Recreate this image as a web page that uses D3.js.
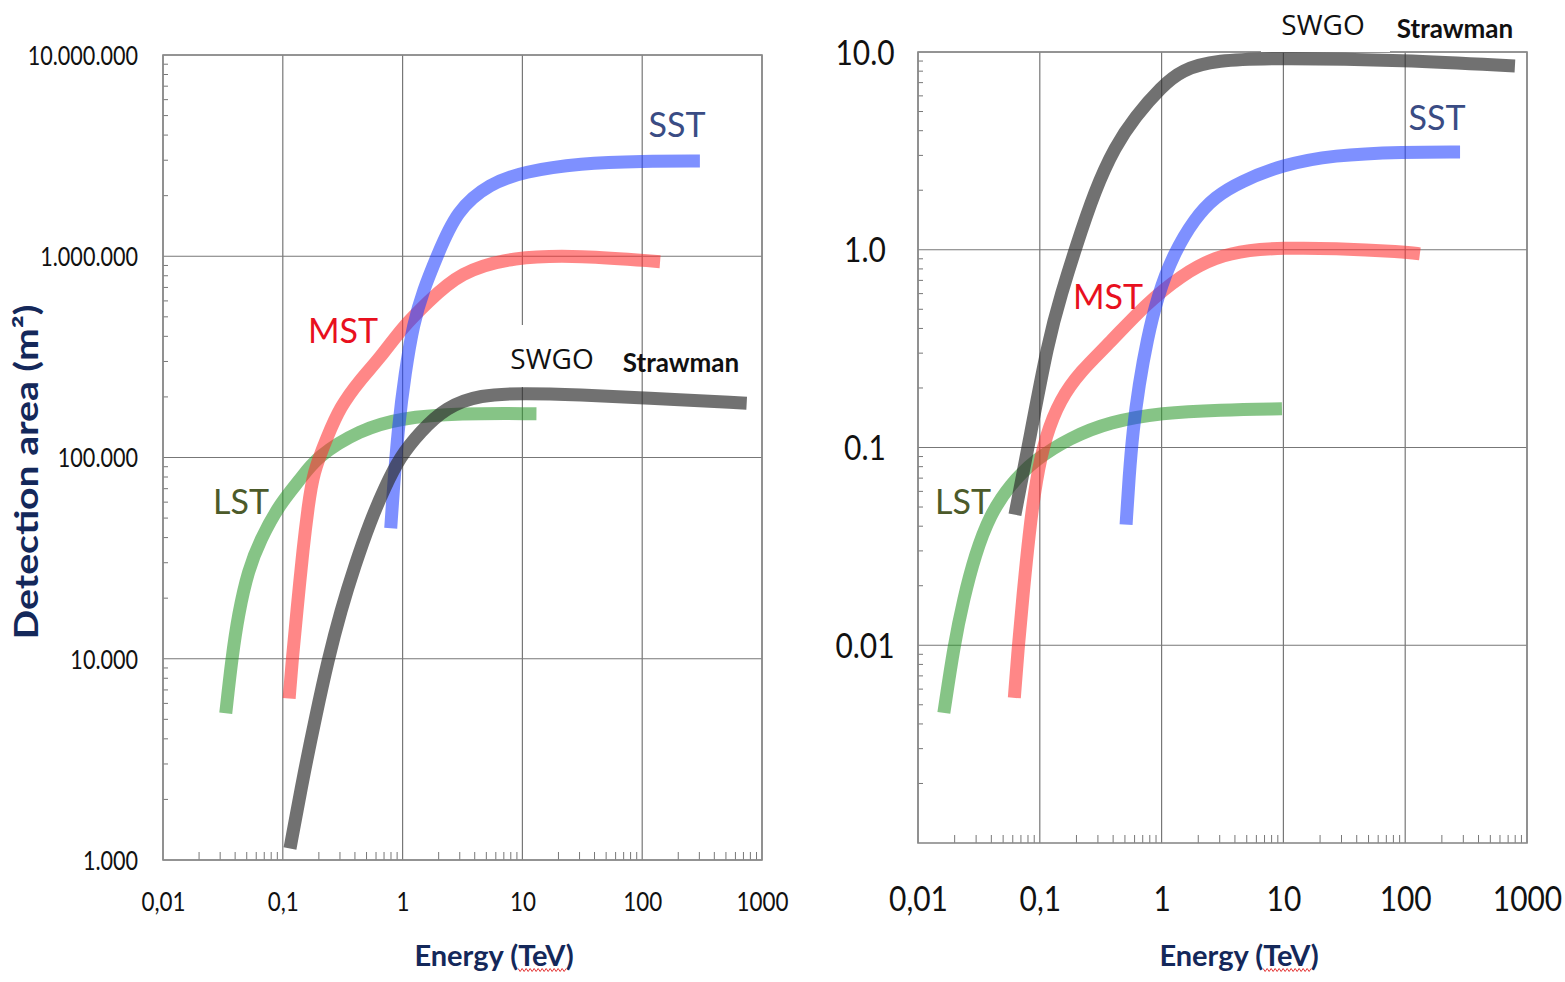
<!DOCTYPE html>
<html>
<head>
<meta charset="utf-8">
<script src="https://cdn.jsdelivr.net/npm/d3@7"></script>
<style>
  body { margin: 0; background: #fff; }
  svg { display: block; }
</style>
</head>
<body>
<svg id="chart" width="1565" height="982"></svg>
<script>
// ---- tick values / labels ----
var energyTicks = [0.01, 0.1, 1, 10, 100, 1000];
var energyLabels = ["0,01", "0,1", "1", "10", "100", "1000"];
var areaTicks = [1e3, 1e4, 1e5, 1e6, 1e7];
var areaLabels = ["1.000", "10.000", "100.000", "1.000.000", "10.000.000"];
var relTicks = [0.01, 0.1, 1, 10];
var relLabels = ["0.01", "0.1", "1.0", "10.0"];

// ---- left panel: detection area (m2) vs energy (TeV) ----
var lstArea = [[0.0334, 5360], [0.0375, 10000], [0.0426, 16800], [0.0515, 27600], [0.0646, 38900], [0.0948, 59100],
  [0.139, 77300], [0.192, 101000], [0.441, 137000], [0.95, 157000], [3.0, 166000], [13.1, 165000]];
var mstArea = [[0.113, 6350], [0.12, 10000], [0.1306, 16800], [0.148, 36000], [0.163, 57000], [0.1786, 83700],
  [0.234, 126000], [0.30, 178000], [0.441, 243000], [0.647, 312000], [1.0, 445000], [1.6, 586000],
  [3.01, 836000], [8.4, 995000], [30.3, 1010000], [141, 940000]];
var sstArea = [[0.796, 44500], [0.836, 68900], [0.92, 142000], [1.047, 262000], [1.23, 464000], [1.49, 679000],
  [1.93, 995000], [2.83, 1700000], [5.37, 2300000], [10.2, 2630000], [30.3, 2900000], [102, 2970000], [303, 2970000]];
var swgoArea = [[0.1148, 1140], [0.1475, 2560], [0.1892, 5250], [0.2384, 9860], [0.306, 17470], [0.4006, 29230],
  [0.5343, 47800], [0.7127, 71400], [0.951, 100600], [1.397, 133900], [2.303, 178200], [4.43, 205000],
  [10.2, 209000], [30.3, 205000], [102, 198000], [745, 186000]];

// ---- right panel: relative scale ----
var lstRel = [[0.0163, 0.00455], [0.0198, 0.0101], [0.0236, 0.017], [0.0294, 0.0287], [0.039, 0.0457], [0.0569, 0.0649],
  [0.0913, 0.0867], [0.177, 0.112], [0.377, 0.135], [1.0, 0.15], [3.01, 0.155], [9.73, 0.157]];
var mstRel = [[0.0618, 0.00542], [0.0662, 0.00951], [0.0728, 0.018], [0.0815, 0.0363], [0.0931, 0.0688], [0.1124, 0.116],
  [0.1465, 0.174], [0.2138, 0.2415], [0.3771, 0.3385], [0.7306, 0.527], [1.471, 0.747], [2.744, 0.921], [5.32, 1.0],
  [9.73, 1.02], [25.5, 1.02], [97.7, 0.976], [132, 0.953]];
var sstRel = [[0.511, 0.0407], [0.5398, 0.0704], [0.5823, 0.123], [0.6523, 0.2076], [0.7587, 0.3505], [0.9342, 0.5917],
  [1.24, 0.9424], [1.88, 1.449], [2.744, 1.851], [4.403, 2.203], [9.739, 2.685], [25.54, 3.016], [97.7, 3.124], [282, 3.124]];
var swgoRel = [[0.0625, 0.0457], [0.080, 0.0998], [0.1175, 0.351], [0.151, 0.604], [0.1945, 1.0], [0.284, 2.01],
  [0.414, 3.32], [0.605, 4.71], [1.0, 6.68], [1.46, 8.11], [2.74, 9.11], [9.73, 9.33], [97.7, 9.11], [796, 8.5]];

var colors = {lst: "#2f9a2f", mst: "#ff3030", sst: "#2040ff", swgo: "#2e2e2e"};
var labelColors = {lst: "#4c5a2a", mst: "#e8101e", sst: "#3a4c84", swgo: "#111"};

var svg = d3.select("#chart");
var navy = "#14285a";

var panels = [
  {
    left: 163, right: 762, top: 55, bottom: 860,
    yDomain: [1e3, 1e7], yTicks: areaTicks, yLabels: areaLabels,
    yLabelX: 138, yAnchor: "end", yFont: 26, xFont: 27, squeeze: 0.83, xLabelY: 911,
    series: [["lst", lstArea], ["mst", mstArea], ["sst", sstArea], ["swgo", swgoArea]],
    box: [497, 325, 113, 62],
    labels: [
      {t: "SST", k: "sst", x: 677, y: 137, s: 34},
      {t: "MST", k: "mst", x: 343, y: 343, s: 34},
      {t: "LST", k: "lst", x: 241, y: 514, s: 34},
      {t: "SWGO", k: "swgo", x: 552, y: 369, s: 28, f: "'Open Sans'"},
      {t: "Strawman", k: "swgo", x: 681, y: 372, s: 26, w: "bold"}
    ],
    title: {x: 494, y: 966}
  },
  {
    left: 918, right: 1527, top: 52, bottom: 843,
    yDomain: [1e-3, 10], yTicks: relTicks, yLabels: relLabels,
    yLabelX: 865, yAnchor: "middle", yFont: 34, xFont: 34, squeeze: 0.88, xLabelY: 911,
    series: [["lst", lstRel], ["mst", mstRel], ["sst", sstRel], ["swgo", swgoRel]],
    box: [1261, 0, 129, 52],
    labels: [
      {t: "SST", k: "sst", x: 1437, y: 130, s: 34},
      {t: "MST", k: "mst", x: 1108, y: 309, s: 34},
      {t: "LST", k: "lst", x: 963, y: 514, s: 34},
      {t: "SWGO", k: "swgo", x: 1323, y: 35, s: 28, f: "'Open Sans'"},
      {t: "Strawman", k: "swgo", x: 1455, y: 38, s: 26, w: "bold"}
    ],
    title: {x: 1239, y: 966}
  }
];

panels.forEach(function (p) {
  var x = d3.scaleLog().domain([0.01, 1000]).range([p.left, p.right]);
  var y = d3.scaleLog().domain(p.yDomain).range([p.bottom, p.top]);
  var g = svg.append("g");

  // minor ticks (inside)
  var xMinor = x.ticks().filter(function (d) { return energyTicks.indexOf(d) < 0; });
  var yMinor = y.ticks().filter(function (d) { return p.yTicks.indexOf(d) < 0 && p.yDomain.indexOf(d) < 0; });

  g.selectAll(".xminor").data(xMinor).enter().append("line")
    .attr("x1", function (d) { return x(d); }).attr("x2", function (d) { return x(d); })
    .attr("y1", p.bottom).attr("y2", p.bottom - 8)
    .attr("stroke", "#777").attr("stroke-width", 1);
  g.selectAll(".yminor").data(yMinor).enter().append("line")
    .attr("x1", p.left).attr("x2", p.left + 5)
    .attr("y1", function (d) { return y(d); }).attr("y2", function (d) { return y(d); })
    .attr("stroke", "#777").attr("stroke-width", 1);

  // grid lines at decades
  g.selectAll(".vgrid").data(energyTicks).enter().append("line")
    .attr("x1", function (d) { return x(d); }).attr("x2", function (d) { return x(d); })
    .attr("y1", p.top).attr("y2", p.bottom)
    .attr("stroke", "#777").attr("stroke-width", 1.2);
  g.selectAll(".hgrid").data(p.yTicks).enter().append("line")
    .attr("x1", p.left).attr("x2", p.right)
    .attr("y1", function (d) { return y(d); }).attr("y2", function (d) { return y(d); })
    .attr("stroke", "#777").attr("stroke-width", 1.2);

  // frame
  g.append("rect")
    .attr("x", p.left).attr("y", p.top)
    .attr("width", p.right - p.left).attr("height", p.bottom - p.top)
    .attr("fill", "none").attr("stroke", "#8a8a8a").attr("stroke-width", 1.6);

  // curves
  var line = d3.line()
    .x(function (d) { return x(d[0]); })
    .y(function (d) { return y(d[1]); })
    .curve(d3.curveBasis);

  p.series.forEach(function (s) {
    g.append("path")
      .datum(s[1])
      .attr("d", line)
      .attr("fill", "none")
      .attr("stroke", colors[s[0]])
      .attr("stroke-opacity", s[0] == "swgo" ? 0.68 : 0.58)
      .attr("stroke-width", 13)
      .attr("stroke-linecap", "butt");
  });

  // pasted white box behind "SWGO"
  g.append("rect")
    .attr("x", p.box[0]).attr("y", p.box[1])
    .attr("width", p.box[2]).attr("height", p.box[3])
    .attr("fill", "#fff");

  // series labels
  p.labels.forEach(function (l) {
    g.append("text")
      .attr("x", l.x).attr("y", l.y)
      .attr("text-anchor", "middle")
      .style("font-family", l.f || "Lato, 'Open Sans', sans-serif")
      .style("font-size", l.s + "px")
      .style("font-weight", l.w || "normal")
      .style("fill", labelColors[l.k])
      .text(l.t);
  });

  // tick labels (a bit condensed, like the original font)
  g.append("g").attr("transform", "translate(0," + p.bottom + ")")
    .call(d3.axisBottom(x).tickValues(energyTicks).tickSize(0)
      .tickFormat(function (d, i) { return energyLabels[i]; }))
    .call(function (a) { a.select(".domain").remove(); })
    .selectAll("text")
    .attr("y", 0).attr("dy", 0)
    .attr("transform", "translate(0," + (p.xLabelY - p.bottom) + ") scale(" + p.squeeze + ",1)")
    .style("font-family", "Lato, sans-serif")
    .style("font-size", p.xFont + "px")
    .style("fill", "#111");

  g.append("g")
    .call(d3.axisLeft(y).tickValues(p.yTicks).tickSize(0)
      .tickFormat(function (d, i) { return p.yLabels[i]; }))
    .call(function (a) { a.select(".domain").remove(); })
    .selectAll("text")
    .attr("x", 0).attr("dy", "0.36em")
    .attr("transform", "translate(" + p.yLabelX + ",0) scale(" + p.squeeze + ",1)")
    .attr("text-anchor", p.yAnchor)
    .style("font-family", "Lato, sans-serif")
    .style("font-size", p.yFont + "px")
    .style("fill", "#111");

  // x-axis title
  var title = g.append("text")
    .attr("x", p.title.x).attr("y", p.title.y)
    .attr("text-anchor", "middle")
    .style("font-family", "Lato, sans-serif")
    .style("font-size", "29px")
    .style("font-weight", "bold")
    .style("fill", navy);
  title.append("tspan").text("Energy (");
  var tev = title.append("tspan").text("TeV");
  title.append("tspan").text(")");

  // red spell-check squiggle under "TeV"
  var bb = tev.node().getBBox();
  var pts = [], k = 0;
  for (var sx = bb.x; sx <= bb.x + bb.width; sx += 2) {
    pts.push([sx, p.title.y + 4 + (k++ % 2 ? 1.5 : -1.5)]);
  }
  g.append("path")
    .attr("d", d3.line()(pts))
    .attr("fill", "none").attr("stroke", "#e02020").attr("stroke-width", 0.9);
});

// y-axis title (left panel only)
svg.append("text")
  .attr("transform", "translate(38,472) rotate(-90)")
  .attr("text-anchor", "middle")
  .attr("textLength", 335)
  .attr("lengthAdjust", "spacingAndGlyphs")
  .style("font-family", "Lato, sans-serif")
  .style("font-size", "32px")
  .style("font-weight", "bold")
  .style("fill", navy)
  .text("Detection area (m²)");
</script>
</body>
</html>
